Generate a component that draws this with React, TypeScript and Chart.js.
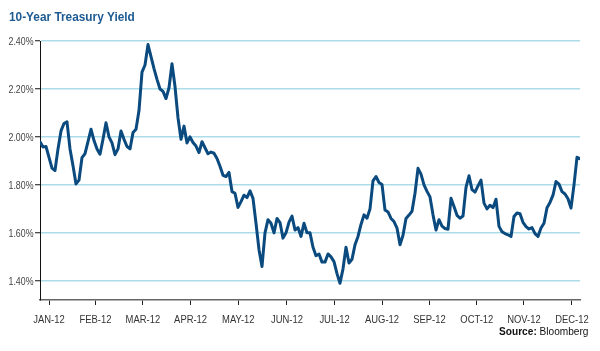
import React, { useEffect, useRef } from "react";
import { Chart, registerables } from "chart.js";

Chart.register(...registerables);

// 10-year Treasury yield (%), sampled at uniform steps through 2012
const yieldValues: number[] = [
  1.98, 1.958, 1.96, 1.915, 1.87, 1.86, 1.95, 2.025, 2.056, 2.063,
  1.95, 1.88, 1.804, 1.82, 1.914, 1.93, 1.98, 2.032, 1.985, 1.95,
  1.928, 1.99, 2.059, 2.0, 1.975, 1.926, 1.95, 2.025, 1.99, 1.96,
  1.95, 2.018, 2.032, 2.11, 2.27, 2.3, 2.385, 2.335, 2.285, 2.24,
  2.2, 2.19, 2.16, 2.205, 2.305, 2.21, 2.08, 1.99, 2.045, 1.975,
  2.0, 1.977, 1.962, 1.935, 1.98, 1.955, 1.93, 1.937, 1.932, 1.91,
  1.878, 1.84, 1.835, 1.852, 1.772, 1.765, 1.706, 1.73, 1.757, 1.747,
  1.775, 1.744, 1.64, 1.53, 1.46, 1.6, 1.655, 1.64, 1.6, 1.66,
  1.643, 1.578, 1.6, 1.645, 1.67, 1.612, 1.622, 1.585, 1.64, 1.6,
  1.6, 1.54, 1.505, 1.512, 1.478, 1.478, 1.512, 1.5, 1.48, 1.43,
  1.39, 1.45, 1.54, 1.474, 1.49, 1.55, 1.585, 1.635, 1.675, 1.661,
  1.7, 1.817, 1.835, 1.81, 1.802, 1.695, 1.687, 1.66, 1.647, 1.62,
  1.55, 1.59, 1.66, 1.674, 1.69, 1.765, 1.869, 1.845, 1.8, 1.773,
  1.75, 1.675, 1.612, 1.655, 1.628, 1.618, 1.615, 1.744, 1.71, 1.673,
  1.661, 1.67, 1.79, 1.838, 1.78, 1.77, 1.796, 1.82, 1.724, 1.7,
  1.715, 1.705, 1.74, 1.627, 1.605, 1.597, 1.592, 1.585, 1.668, 1.683,
  1.68, 1.644, 1.626, 1.616, 1.622, 1.597, 1.585, 1.62, 1.64, 1.705,
  1.727, 1.757, 1.814, 1.803, 1.772, 1.762, 1.742, 1.703, 1.8, 1.915,
  1.909,
];

const monthLabels: string[] = [
  "JAN-12", "FEB-12", "MAR-12", "APR-12", "MAY-12", "JUN-12",
  "JUL-12", "AUG-12", "SEP-12", "OCT-12", "NOV-12", "DEC-12",
];
// sample index at which each month label sits
const monthTickIndex: number[] = [3, 18.5, 34.3, 50.2, 66.1, 82.3, 98.2, 114, 129.8, 145.6, 161.3, 177.3];

const yTicks: number[] = [1.4, 1.6, 1.8, 2.0, 2.2, 2.4];
const yMin = 1.32;
const yMax = 2.4;

const titleText = "10-Year Treasury Yield";
const sourceLabel = "Source:";
const sourceName = "Bloomberg";

const SANS = "'Liberation Sans', Arial, sans-serif";

function drawText(
  ctx: CanvasRenderingContext2D,
  text: string,
  x: number,
  y: number,
  font: string,
  color: string,
  align: CanvasTextAlign,
  sx: number
) {
  ctx.save();
  ctx.font = font;
  ctx.fillStyle = color;
  ctx.textAlign = align;
  ctx.textBaseline = "alphabetic";
  ctx.translate(x, y);
  ctx.scale(sx, 1);
  ctx.fillText(text, 0, 0);
  ctx.restore();
}

export default function App() {
  const canvasRef = useRef<HTMLCanvasElement | null>(null);

  useEffect(() => {
    const canvas = canvasRef.current;
    if (!canvas) return;

    const textPlugin = {
      id: "textPlugin",
      afterDraw(chart: any) {
        const ctx: CanvasRenderingContext2D = chart.ctx;
        const xs = chart.scales.x;
        const ys = chart.scales.y;

        // title
        drawText(ctx, titleText, 9, 20.5, `bold 13px ${SANS}`, "#1d5a92", "left", 0.91);

        // y tick labels
        yTicks.forEach((v) => {
          const py = ys.getPixelForValue(v);
          drawText(ctx, v.toFixed(2) + "%", 33.5, py + 4, `10.5px ${SANS}`, "#444", "right", 0.84);
        });

        // x tick labels
        monthTickIndex.forEach((v, i) => {
          const px = xs.getPixelForValue(v);
          drawText(ctx, monthLabels[i], px, 323, `11.5px ${SANS}`, "#333", "center", 0.82);
        });

        // source
        const sx = 0.92;
        ctx.save();
        ctx.font = `11px ${SANS}`;
        const wName = ctx.measureText(" " + sourceName).width * sx;
        ctx.restore();
        drawText(ctx, sourceName, 588.5, 334.5, `11px ${SANS}`, "#111", "right", sx);
        drawText(ctx, sourceLabel, 588.5 - wName, 334.5, `bold 11px ${SANS}`, "#111", "right", sx);
      },
    };

    const chart = new Chart(canvas, {
      type: "line",
      data: {
        labels: yieldValues.map((_, i) => i),
        datasets: [
          {
            data: yieldValues.map((v, i) => ({ x: i, y: v })),
            borderColor: "#0b4a7e",
            borderWidth: 3,
            pointRadius: 0,
            tension: 0,
            borderJoinStyle: "round",
            borderCapStyle: "round",
            fill: false,
          },
        ],
      },
      options: {
        animation: false,
        responsive: false,
        devicePixelRatio: 1,
        layout: { padding: { left: 0, right: 20, top: 41, bottom: 11 } },
        plugins: {
          legend: { display: false },
          title: { display: false },
          tooltip: { enabled: false },
        },
        scales: {
          x: {
            type: "linear",
            min: 0,
            max: yieldValues.length - 1,
            afterBuildTicks: (scale: any) => {
              scale.ticks = monthTickIndex.map((v) => ({ value: v }));
            },
            afterFit: (scale: any) => {
              scale.height = 40;
            },
            ticks: { display: false, autoSkip: false },
            grid: {
              drawOnChartArea: false,
              drawTicks: true,
              tickLength: 5,
              tickColor: "#222",
              tickWidth: 1,
            },
            border: { display: true, color: "#666", width: 1.5 },
          },
          y: {
            min: yMin,
            max: yMax,
            afterBuildTicks: (scale: any) => {
              scale.ticks = yTicks.map((v) => ({ value: v }));
            },
            afterFit: (scale: any) => {
              scale.width = 40;
            },
            ticks: { display: false },
            grid: {
              color: "#abdce8",
              lineWidth: 1.5,
              drawTicks: true,
              tickLength: 5,
              tickColor: "#111",
              tickWidth: 1,
            },
            border: { display: true, color: "#111", width: 1 },
          },
        },
      },
      plugins: [textPlugin],
    } as any);

    return () => chart.destroy();
  }, []);

  return (
    <div style={{ position: "absolute", left: 0, top: 0, width: 600, height: 351, background: "#fff" }}>
      <canvas ref={canvasRef} width={600} height={351} style={{ display: "block", width: 600, height: 351 }} />
    </div>
  );
}
